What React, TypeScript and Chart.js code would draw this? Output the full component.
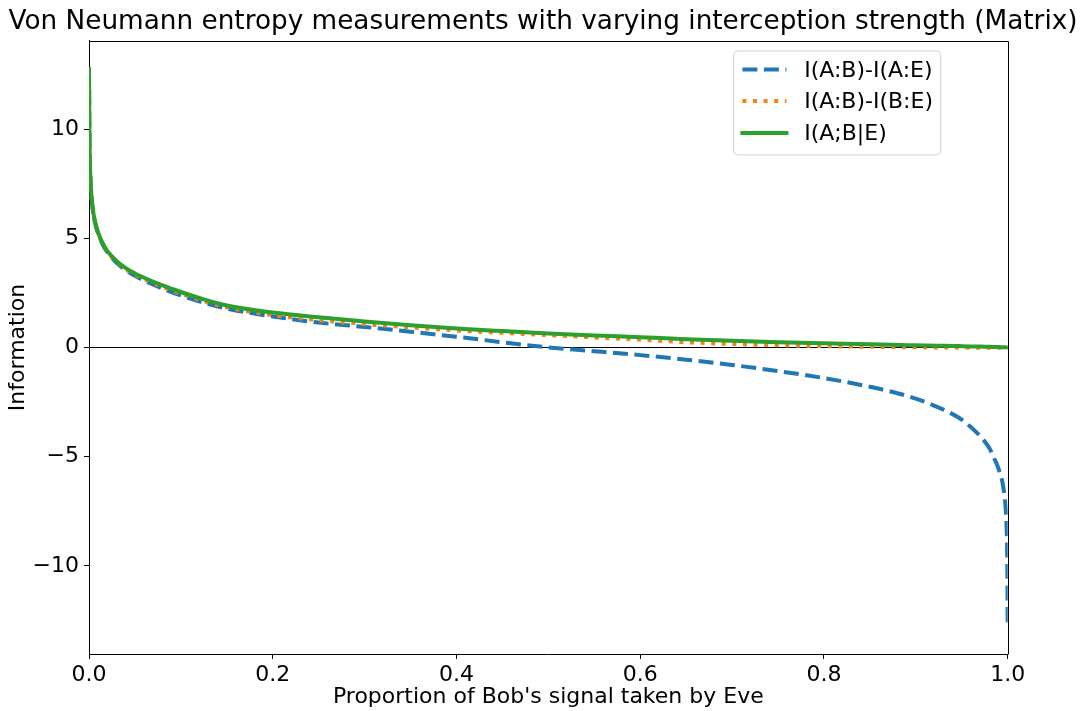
import React, { useEffect, useRef } from 'react';
import { Chart, registerables } from 'chart.js';

Chart.register(...registerables);

const titleText = 'Von Neumann entropy measurements with varying interception strength (Matrix)';
const xAxisLabel = "Proportion of Bob's signal taken by Eve";
const yAxisLabel = 'Information';
const seriesLabels = ['I(A:B)-I(A:E)', 'I(A:B)-I(B:E)', 'I(A;B|E)'];

const xs = [
  0, 0.0005, 0.001, 0.002, 0.003, 0.005, 0.0075, 0.01, 0.015, 0.02, 0.03, 0.04, 0.05, 0.06, 0.08,
  0.1, 0.125, 0.15, 0.2, 0.25, 0.3, 0.35, 0.4, 0.45, 0.5, 0.55, 0.6, 0.65, 0.7, 0.75, 0.8, 0.85,
  0.875, 0.9, 0.925, 0.94, 0.95, 0.96, 0.97, 0.975, 0.98, 0.985, 0.99, 0.995, 0.998, 0.999, 0.9995, 1.0,
];

const abMinusAe = [
  12.75, 9.6, 8.4, 7.35, 6.75, 6.05, 5.55, 5.2, 4.7, 4.35, 3.88, 3.54, 3.28, 3.06, 2.7,
  2.38, 2.05, 1.78, 1.42, 1.14, 0.94, 0.72, 0.49, 0.24, 0.0, -0.17, -0.35, -0.56, -0.8, -1.08, -1.4, -1.8,
  -2.04, -2.34, -2.75, -3.05, -3.3, -3.65, -4.05, -4.3, -4.6, -5.05, -5.55, -6.35, -7.5, -8.5, -9.6, -12.75,
];

const abMinusBe = [
  12.75, 9.6, 8.4, 7.38, 6.78, 6.08, 5.58, 5.23, 4.73, 4.38, 3.92, 3.59, 3.34, 3.13, 2.77,
  2.46, 2.12, 1.84, 1.48, 1.25, 1.07, 0.92, 0.78, 0.67, 0.57, 0.46, 0.36, 0.24, 0.16, 0.1, 0.06, 0.03,
  0.02, 0.01, 0.0, 0.0, 0.0, -0.01, -0.01, -0.01, -0.01, -0.01, -0.01, -0.01, -0.01, -0.01, -0.01, -0.01,
];

const condMutual = [
  12.75, 9.6, 8.4, 7.4, 6.8, 6.1, 5.6, 5.25, 4.76, 4.41, 3.96, 3.63, 3.39, 3.19, 2.84,
  2.54, 2.2, 1.92, 1.6, 1.38, 1.19, 1.02, 0.87, 0.75, 0.64, 0.55, 0.47, 0.38, 0.31, 0.24, 0.19, 0.15,
  0.12, 0.1, 0.08, 0.07, 0.06, 0.05, 0.04, 0.035, 0.03, 0.025, 0.02, 0.01, 0.005, 0.002, 0.001, 0.0,
];

const xTicks = [0, 0.2, 0.4, 0.6, 0.8, 1.0];
const yTicks = [-10, -5, 0, 5, 10];
const xRange = [0, 1];
const yRange = [-14.03, 14.03];

const colors = ['#1f77b4', '#ff7f0e', '#2ca02c'];
const dashes = [[15, 6.5], [4, 6.6], []];
const FONT = "'DejaVu Sans', 'Liberation Sans', sans-serif";

const framePlugin = {
  id: 'frameAndLegend',
  afterDraw(chart: any) {
    const { ctx, chartArea: ca } = chart;
    ctx.save();
    // top and right spines
    ctx.strokeStyle = '#000';
    ctx.lineWidth = 1;
    ctx.beginPath();
    ctx.moveTo(Math.round(ca.left) + 0.5, Math.round(ca.top) + 0.5);
    ctx.lineTo(Math.round(ca.right) + 0.5, Math.round(ca.top) + 0.5);
    ctx.lineTo(Math.round(ca.right) + 0.5, Math.round(ca.bottom) + 0.5);
    ctx.stroke();

    // legend box
    const bx = ca.right - 274;
    const by = ca.top + 10;
    const bw = 207;
    const bh = 104;
    const r = 4;
    ctx.beginPath();
    ctx.moveTo(bx + r, by);
    ctx.lineTo(bx + bw - r, by);
    ctx.arcTo(bx + bw, by, bx + bw, by + r, r);
    ctx.lineTo(bx + bw, by + bh - r);
    ctx.arcTo(bx + bw, by + bh, bx + bw - r, by + bh, r);
    ctx.lineTo(bx + r, by + bh);
    ctx.arcTo(bx, by + bh, bx, by + bh - r, r);
    ctx.lineTo(bx, by + r);
    ctx.arcTo(bx, by, bx + r, by, r);
    ctx.closePath();
    ctx.fillStyle = 'rgba(255,255,255,0.8)';
    ctx.fill();
    ctx.strokeStyle = '#d2d2d2';
    ctx.lineWidth = 1;
    ctx.stroke();

    const rows = [by + 18.5, by + 50, by + 82];
    chart.data.datasets.forEach((ds: any, i: number) => {
      const y = rows[i];
      ctx.beginPath();
      ctx.setLineDash(dashes[i]);
      ctx.lineCap = i === 2 ? 'square' : 'butt';
      ctx.strokeStyle = colors[i];
      ctx.lineWidth = 4;
      ctx.moveTo(bx + 8.7, y);
      ctx.lineTo(bx + 52.7, y);
      ctx.stroke();
      ctx.setLineDash([]);
      ctx.fillStyle = '#000';
      ctx.font = `22px ${FONT}`;
      ctx.textAlign = 'left';
      ctx.textBaseline = 'middle';
      ctx.fillText(ds.label, bx + 70.5, y + 1.5);
    });
    ctx.restore();
  },
};

export default function App() {
  const canvasRef = useRef<HTMLCanvasElement | null>(null);

  useEffect(() => {
    if (!canvasRef.current) return;
    const series = [abMinusAe, abMinusBe, condMutual];
    const chart = new Chart(canvasRef.current, {
      type: 'line',
      data: {
        datasets: series.map((vals, i) => ({
          label: seriesLabels[i],
          data: xs.map((x, j) => ({ x, y: vals[j] })),
          borderColor: colors[i],
          backgroundColor: colors[i],
          borderWidth: 4,
          borderDash: dashes[i],
          borderCapStyle: i === 2 ? 'square' : 'butt',
          pointRadius: 0,
          fill: false,
          cubicInterpolationMode: 'monotone',
          order: 2 - i,
        })),
      },
      options: {
        responsive: false,
        animation: false,
        events: [],
        layout: { padding: 0 },
        plugins: {
          legend: { display: false },
          tooltip: { enabled: false },
          title: {
            display: true,
            text: titleText,
            color: '#000',
            font: { family: FONT, size: 26.3, weight: 'normal', lineHeight: 1.2 },
            padding: { top: 6.3, bottom: 3.1 },
          },
        },
        scales: {
          x: {
            type: 'linear',
            min: xRange[0],
            max: xRange[1],
            afterBuildTicks: (scale: any) => {
              scale.ticks = xTicks.map((v) => ({ value: v }));
            },
            afterFit: (scale: any) => {
              scale.height = 57;
            },
            ticks: {
              color: '#000',
              font: { family: FONT, size: 22 },
              padding: 3,
              maxRotation: 0,
              callback: (v: any) => Number(v).toFixed(1),
            },
            grid: { drawOnChartArea: false, tickLength: 5, tickColor: '#000', tickWidth: 1 },
            border: { display: true, color: '#000', width: 1 },
            title: {
              display: true,
              text: xAxisLabel,
              color: '#000',
              font: { family: FONT, size: 22, lineHeight: 1.2 },
              padding: { top: 0, bottom: 1 },
            },
          },
          y: {
            type: 'linear',
            position: 'left',
            min: yRange[0],
            max: yRange[1],
            afterBuildTicks: (scale: any) => {
              scale.ticks = yTicks.map((v) => ({ value: v }));
            },
            afterFit: (scale: any) => {
              scale.width = 89;
            },
            ticks: {
              color: '#000',
              font: { family: FONT, size: 22 },
              padding: 5,
              callback: (v: any) => (Number(v) < 0 ? '\u2212' + Math.abs(Number(v)) : String(v)),
            },
            grid: {
              drawOnChartArea: true,
              color: (c: any) => (c.tick && c.tick.value === 0 ? '#000' : 'rgba(0,0,0,0)'),
              lineWidth: 1,
              tickLength: 5,
              tickColor: '#000',
              tickWidth: 1,
            },
            border: { display: true, color: '#000', width: 1 },
            title: {
              display: true,
              text: yAxisLabel,
              color: '#000',
              font: { family: FONT, size: 22, lineHeight: 1.2 },
              padding: { top: 5, bottom: 0 },
            },
          },
          rightMargin: {
            type: 'linear',
            position: 'right',
            display: true,
            min: yRange[0],
            max: yRange[1],
            afterBuildTicks: (scale: any) => {
              scale.ticks = [];
            },
            afterFit: (scale: any) => {
              scale.width = 78.3;
            },
            ticks: { display: false },
            grid: { display: false, drawOnChartArea: false },
            border: { display: false },
            title: { display: false },
          },
        },
      },
      plugins: [framePlugin],
    } as any);
    return () => chart.destroy();
  }, []);

  return (
    <div style={{ position: 'absolute', left: 0, top: 0, width: 1086, height: 711, background: '#fff' }}>
      <canvas ref={canvasRef} width={1086} height={711} style={{ display: 'block' }} />
    </div>
  );
}
